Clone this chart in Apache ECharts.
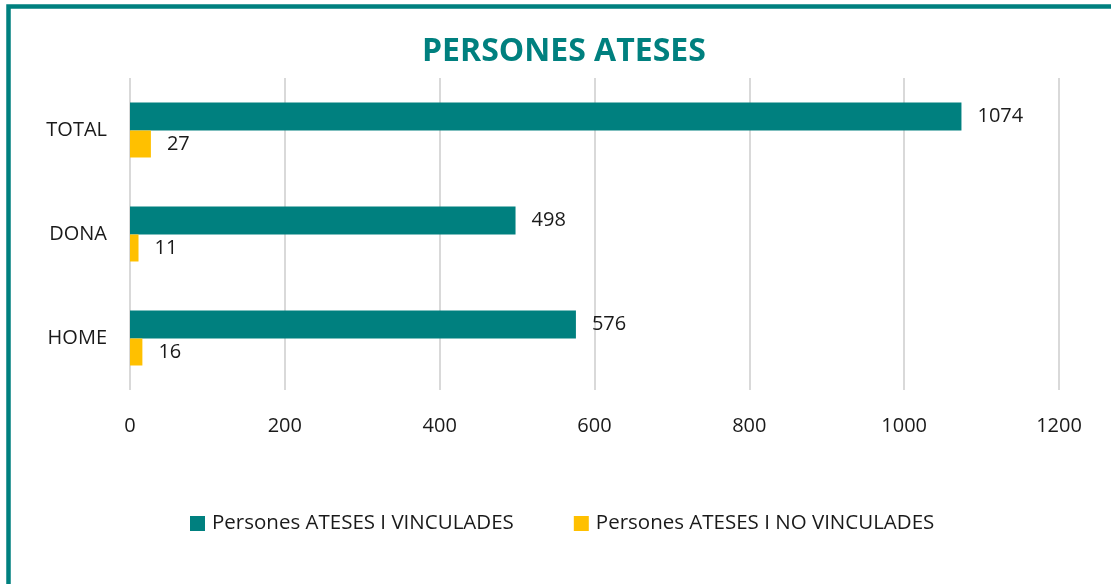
<!DOCTYPE html>
<html>
<head>
<meta charset="utf-8">
<script src="https://cdn.jsdelivr.net/npm/echarts@6/dist/echarts.min.js"></script>
<style>
html, body { margin: 0; padding: 0; background: #fff; }
#chart { width: 1111px; height: 584px; }
</style>
</head>
<body>
<div id="chart"></div>
<script>
// categories from bottom to top, as on the y axis
var categories = ['HOME', 'DONA', 'TOTAL'];
var vinculades = [576, 498, 1074];
var noVinculades = [16, 11, 27];
var xTicks = [0, 200, 400, 600, 800, 1000, 1200];

var serieNames = ['Persones ATESES I VINCULADES', 'Persones ATESES I NO VINCULADES'];
var TEAL = '#00807f', YELLOW = '#ffc000';
var FONT = '"Open Sans", sans-serif';

var chart = echarts.init(document.getElementById('chart'));

var barLabel = { show: true, position: 'right', distance: 16, fontFamily: FONT, fontSize: 20, color: '#1a1a1a' };

var option = {
	backgroundColor: '#fff',
	animation: false,
	title: {
		text: 'PERSONES ATESES',
		left: 417,
		top: 31,
		textStyle: { fontFamily: FONT, fontSize: 32, fontWeight: 'bold', color: TEAL }
	},
	graphic: [{
		type: 'rect',
		shape: { x: 8.5, y: 6.5, width: 1200, height: 700 },
		style: { fill: 'none', stroke: TEAL, lineWidth: 4.5 },
		silent: true
	}],
	legend: {
		data: serieNames,
		left: 190,
		top: 513,
		padding: 0,
		itemWidth: 15,
		itemHeight: 15,
		itemGap: 60,
		icon: 'rect',
		textStyle: { fontFamily: FONT, fontSize: 20.5, color: '#1a1a1a', padding: [0, 0, 0, 2] }
	},
	grid: { left: 130, right: 52, top: 78, bottom: 194, containLabel: false },
	xAxis: {
		type: 'value',
		min: xTicks[0],
		max: xTicks[xTicks.length - 1],
		interval: 200,
		axisLine: { show: false },
		axisTick: { show: false },
		splitLine: { lineStyle: { color: '#d9d9d9', width: 2 } },
		axisLabel: {
			fontFamily: FONT, fontSize: 20, color: '#1a1a1a', margin: 26,
			formatter: function (v) { return String(v); }
		}
	},
	yAxis: {
		type: 'category',
		data: categories,
		axisLine: { show: false },
		axisTick: { show: false },
		axisLabel: { fontFamily: FONT, fontSize: 20, color: '#1a1a1a', margin: 23 }
	},
	series: [
		{
			name: serieNames[0],
			type: 'bar',
			data: vinculades,
			barWidth: 28,
			barGap: '0%',
			itemStyle: { color: TEAL },
			label: barLabel
		},
		{
			name: serieNames[1],
			type: 'bar',
			data: noVinculades,
			barWidth: 27,
			barGap: '0%',
			itemStyle: { color: YELLOW },
			label: barLabel
		}
	]
};

chart.setOption(option);
</script>
</body>
</html>
